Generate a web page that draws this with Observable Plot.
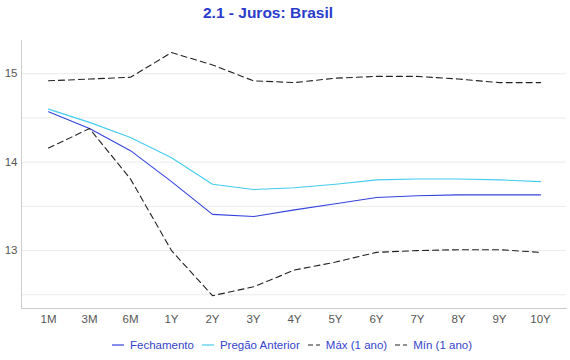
<!DOCTYPE html>
<html><head><meta charset="utf-8">
<script src="https://cdn.jsdelivr.net/npm/d3@7"></script>
<script src="https://cdn.jsdelivr.net/npm/@observablehq/plot@0.6"></script>
<style>
body{margin:0;background:#fff;font-family:"Liberation Sans",Arial,sans-serif;}
#wrap{width:570px;}
#title{height:30px;line-height:26px;text-align:center;font-weight:bold;font-size:15.5px;color:#2a3bcc;padding-right:34px;}
#legend{height:30px;display:flex;justify-content:center;align-items:center;font-size:11.5px;color:#3344cc;padding-left:14px;}
.item{display:flex;align-items:center;margin:0 4px;}
.item svg{margin-right:6px;}
</style></head><body>
<div id="wrap">
<div id="title">2.1 - Juros: Brasil</div>
<div id="chart"></div>
<div id="legend"></div>
</div>
<script>
const tenors = ["1M","3M","6M","1Y","2Y","3Y","4Y","5Y","6Y","7Y","8Y","9Y","10Y"];
const fechamento = [14.57,14.38,14.13,13.78,13.41,13.385,13.46,13.53,13.60,13.62,13.63,13.63,13.63];
const pregaoAnterior = [14.60,14.45,14.28,14.05,13.75,13.69,13.71,13.75,13.80,13.81,13.81,13.80,13.78];
const maxAno = [14.92,14.94,14.96,15.24,15.10,14.92,14.90,14.95,14.97,14.97,14.94,14.90,14.90];
const minAno = [14.16,14.38,13.81,13.00,12.49,12.59,12.78,12.87,12.98,13.00,13.01,13.01,12.98];
const seriesNames = ["Fechamento","Pregão Anterior","Máx (1 ano)","Mín (1 ano)"];
const seriesValues = [fechamento, pregaoAnterior, maxAno, minAno];
const colors = ["#3344dd","#44ccee","#222222","#222222"];
const dashes = [null,null,"6,4","6,4"];
const yTicks = [13,14,15];
const yGrid = [12.5,13,13.5,14,14.5,15];

const data = seriesNames.flatMap((s,i)=>tenors.map((t,j)=>({series:s,tenor:t,value:seriesValues[i][j]})));

const plot = Plot.plot({
  width:570, height:300,
  marginTop:10, marginBottom:22, marginLeft:21, marginRight:4,
  style:{fontFamily:"'Liberation Sans',Arial,sans-serif",fontSize:"11px",color:"#555"},
  x:{type:"point",domain:tenors,padding:0.55,label:null},
  y:{domain:[12.345,15.376],label:null},
  marks:[
    Plot.ruleY(yGrid,{stroke:"#ebebeb",strokeWidth:1}),
    Plot.axisY(yTicks,{tickSize:0,tickPadding:4,fill:"#555",fontSize:11.5,tickFormat:d=>String(d)}),
    Plot.axisX({tickSize:0,tickPadding:6,fill:"#555",fontSize:11.5}),
    Plot.frame({anchor:"left",stroke:"#ccc"}),
    Plot.frame({anchor:"bottom",stroke:"#ccc"}),
    ...seriesNames.map((s,i)=>Plot.line(data.filter(d=>d.series===s),{x:"tenor",y:"value",stroke:colors[i],strokeWidth:1.1,strokeDasharray:dashes[i]}))
  ]
});
document.getElementById("chart").appendChild(plot);

const leg = document.getElementById("legend");
seriesNames.forEach((s,i)=>{
  const it=document.createElement("div");it.className="item";
  it.innerHTML=`<svg width="12" height="6"><line x1="0" y1="3" x2="12" y2="3" stroke="${colors[i]}" stroke-width="1.2" ${dashes[i]?'stroke-dasharray="5,3"':''}/></svg><span>${s}</span>`;
  leg.appendChild(it);
});
</script>
</body></html>
